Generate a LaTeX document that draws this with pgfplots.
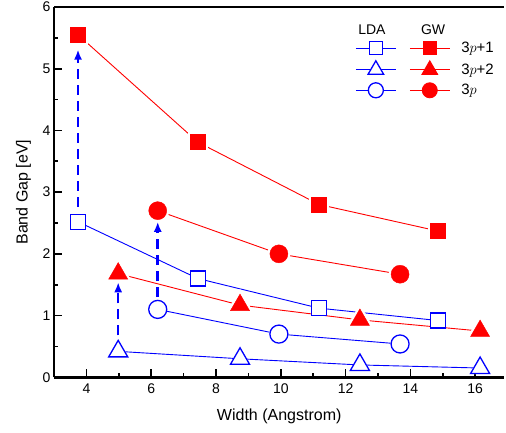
\documentclass[border=0pt]{standalone}
\usepackage{fontspec}
\setmainfont{Liberation Sans}
\usepackage{pgfplots}
\pgfplotsset{compat=1.18}
\usetikzlibrary{arrows.meta}

\newcommand{\series}[4]{%
  \addplot[#1, line width=0.9pt, mark=none, forget plot] coordinates {#4};
  \addplot[only marks, mark=#2, mark options={draw=white, fill=white, line width=5pt, #3}, forget plot] coordinates {#4};
  \addplot[only marks, #1, mark=#2, mark options={#3}, forget plot] coordinates {#4};
}

\begin{document}
\begin{tikzpicture}
\begin{axis}[
    name=ax,
    scale only axis,
    width=450pt, height=370pt,
    xmin=3, xmax=16.9,
    ymin=0, ymax=6,
    xtick={4,6,...,16},
    ytick={0,1,...,6},
    minor x tick num=1,
    minor y tick num=1,
    tick align=inside,
    major tick length=8pt,
    minor tick length=4pt,
    every tick/.style={black, line width=1.6pt},
    axis x line*=bottom,
    axis y line*=left,
    axis line style={line width=2.6pt, -},
    ticklabel style={font=\fontsize{14}{16}\selectfont},
    xticklabel style={yshift=-3pt},
    /pgf/number format/assume math mode=true,
    xlabel={Width (Angstrom)},
    ylabel={Band Gap [eV]},
    label style={font=\fontsize{16}{18}\selectfont},
    xlabel style={yshift=-8pt},
    ylabel style={yshift=5pt},
    clip=false,
    legend columns=2,
    legend style={draw=none, fill=none, at={(0.662,0.916)}, anchor=north west,
        font=\fontsize{15}{16}\selectfont, row sep=4.5pt,
        /tikz/every odd column/.style={column sep=9pt},
        /tikz/every even column/.style={column sep=0pt}},
    legend cell align=left,
    legend image code/.code={%
        \draw[mark repeat=2, mark phase=2, #1] plot coordinates {(0pt,0pt) (20pt,0pt) (40pt,0pt)};},
]
% LDA 3p+1
\series{blue}{square*}{fill=white, mark size=7.5pt, line width=1.3pt}{(3.74,2.52) (7.44,1.60) (11.18,1.12) (14.85,0.92)}
% LDA 3p+2
\series{blue}{triangle*}{fill=white, mark size=11pt, line width=1.3pt}{(4.98,0.42) (8.74,0.30) (12.44,0.20) (16.15,0.15)}
% LDA 3p
\series{blue}{*}{fill=white, mark size=9pt, line width=1.3pt}{(6.20,1.10) (9.94,0.70) (13.68,0.54)}
% GW 3p+1
\series{red}{square*}{mark size=7.5pt}{(3.74,5.55) (7.44,3.81) (11.18,2.80) (14.85,2.37)}
% GW 3p+2
\series{red}{triangle*}{mark size=11pt}{(4.98,1.68) (8.74,1.17) (12.44,0.93) (16.15,0.75)}
% GW 3p
\series{red}{*}{mark size=9pt}{(6.20,2.70) (9.94,2.00) (13.68,1.67)}

\addlegendimage{blue, line width=0.9pt, mark=square*, mark options={fill=white, mark size=6.5pt, line width=1.3pt}}
\addlegendentry{\mbox{}}
\addlegendimage{red, line width=0.9pt, mark=square*, mark options={mark size=6.5pt}}
\addlegendentry{3$p$+1}
\addlegendimage{blue, line width=0.9pt, mark=triangle*, mark options={fill=white, mark size=9pt, line width=1.3pt}}
\addlegendentry{\mbox{}}
\addlegendimage{red, line width=0.9pt, mark=triangle*, mark options={mark size=9pt}}
\addlegendentry{3$p$+2}
\addlegendimage{blue, line width=0.9pt, mark=*, mark options={fill=white, mark size=7.5pt, line width=1.3pt}}
\addlegendentry{\mbox{}}
\addlegendimage{red, line width=0.9pt, mark=*, mark options={mark size=7.5pt}}
\addlegendentry{3$p$}

% arrows LDA -> GW
\draw[blue, line width=2.6pt, dash pattern=on 10pt off 6pt, -{Latex[length=10pt,width=8pt]}] (axis cs:3.74,2.76) -- (axis cs:3.74,5.31);
\draw[blue, line width=2.6pt, dash pattern=on 10pt off 6pt, -{Latex[length=10pt,width=8pt]}] (axis cs:4.98,0.68) -- (axis cs:4.98,1.54);
\draw[blue, line width=2.6pt, dash pattern=on 10pt off 6pt, -{Latex[length=10pt,width=8pt]}] (axis cs:6.20,1.30) -- (axis cs:6.20,2.52);

% top frame line
\draw[line width=2.6pt] (rel axis cs:0,1) -- (rel axis cs:1,1);

% legend header
\node[font=\fontsize{14}{16}\selectfont] at (axis cs:12.81,5.64) {LDA};
\node[font=\fontsize{14}{16}\selectfont] at (axis cs:14.7,5.64) {GW};
\end{axis}
\pgfresetboundingbox
\path ([shift={(-54pt,-55pt)}]ax.south west) rectangle ([shift={(1.6pt,7pt)}]ax.north east);
\end{tikzpicture}
\end{document}
